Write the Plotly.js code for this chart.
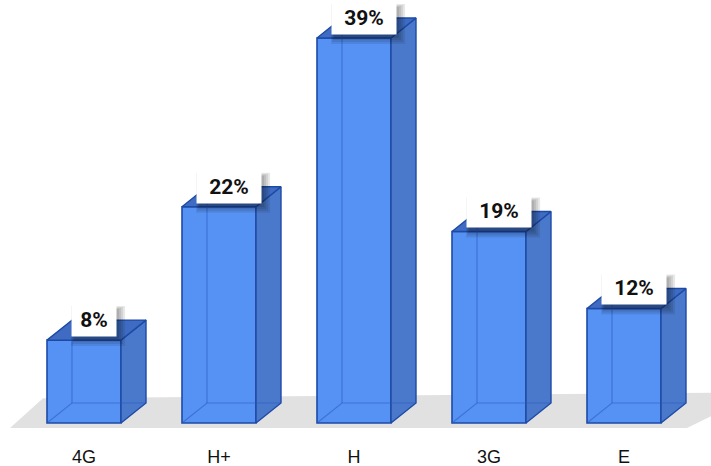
<!DOCTYPE html>
<html>
<head>
<meta charset="utf-8">
<script src="https://cdn.plot.ly/plotly-3.0.1.min.js"></script>
<style>html,body{margin:0;padding:0;background:#fff;}#chart{width:711px;height:466px;}</style>
</head>
<body>
<div id="chart"></div>
<script>
const categories = ['4G', 'H+', 'H', '3G', 'E'];
const values = [8.4, 21.9, 39, 19.4, 11.6];
const valueLabels = ['8%', '22%', '39%', '19%', '12%'];

// Pixel-based styling geometry
const W = 711, H = 466;
const marginB = 22;
const pxPerCat = 135, firstCatPx = 84;
const zeroPx = 423, pxPerUnit = 385 / 39;
const barWpx = 74, depthXpx = 25, depthYpx = 20;

const xr = [-firstCatPx / pxPerCat, (W - firstCatPx) / pxPerCat];
const yr = [-(H - marginB - zeroPx) / pxPerUnit, zeroPx / pxPerUnit];
const bw = barWpx / pxPerCat, dx = depthXpx / pxPerCat, dy = depthYpx / pxPerUnit;
const xs = categories.map((c, i) => i);

const sideX = [], sideY = [], topX = [], topY = [], inX = [], inY = [];
xs.forEach((x, i) => {
  const v = values[i], l = x - bw / 2, r = x + bw / 2;
  sideX.push(r, r + dx, r + dx, r, r, null); sideY.push(0, dy, v + dy, v, 0, null);
  topX.push(l, r, r + dx, l + dx, l, null); topY.push(v, v, v + dy, v + dy, v, null);
  inX.push(l, l + dx, r + dx, null, l + dx, l + dx, null);
  inY.push(0, dy, dy, null, dy, v + dy, null);
});

const edge = '#1d4aa6';
const traces = [
  {type: 'bar', x: xs, y: values, width: bw, marker: {color: '#5692f3', line: {color: edge, width: 1.6}}, hoverinfo: 'skip'},
  {type: 'scatter', mode: 'lines', x: sideX, y: sideY, fill: 'toself', fillcolor: '#4a79cb', line: {color: edge, width: 1.4}, hoverinfo: 'skip'},
  {type: 'scatter', mode: 'lines', x: topX, y: topY, fill: 'toself', fillcolor: '#3f6cc2', line: {color: edge, width: 1.4}, hoverinfo: 'skip'},
  {type: 'scatter', mode: 'lines', x: inX, y: inY, line: {color: 'rgba(40,90,190,0.55)', width: 1.2}, hoverinfo: 'skip'}
];

const floorFront = -0.5, floorBack = 2.5, floorSkew = 33 / pxPerCat;
const shapes = [{
  type: 'path', xref: 'x', yref: 'y', layer: 'below',
  path: `M ${-74 / pxPerCat},${floorFront} L ${(687 - firstCatPx) / pxPerCat},${floorFront} L ${(687 - firstCatPx) / pxPerCat + floorSkew + 0.3},${floorBack + 0.6} L ${-74 / pxPerCat + floorSkew},${floorBack} Z`,
  fillcolor: '#e1e1e1', line: {width: 0}
}];

const annotations = [];
const labelFont = 'Roboto, Arial, Liberation Sans';
const boxH = 32, boxLift = 3, labelOff = 0.075;
xs.forEach((x, i) => {
  const w = valueLabels[i].length === 2 ? 44 : 64;
  // soft shadow (layered translucent rects, pixel-sized, anchored at the label)
  [0, 2, 4, 6].forEach(g => {
    shapes.push({type: 'rect', xref: 'x', yref: 'y', xsizemode: 'pixel', ysizemode: 'pixel',
      xanchor: x + labelOff, yanchor: values[i], layer: 'above',
      x0: -w / 2 + 2 - g / 2, x1: w / 2 + 3 + g, y0: boxLift - 3 - g, y1: boxLift + boxH - 4 + g / 2,
      fillcolor: 'rgba(0,0,0,0.09)', line: {width: 0}});
  });
  annotations.push({x: x + labelOff, y: values[i], xref: 'x', yref: 'y', yanchor: 'bottom', yshift: boxLift,
    showarrow: false, width: w, height: boxH, text: '<b>' + valueLabels[i] + '</b>', bgcolor: '#ffffff', borderpad: 0,
    font: {family: labelFont, size: 21, color: '#111'}});
});

const layout = {
  width: W, height: H,
  margin: {l: 0, r: 0, t: 0, b: marginB},
  paper_bgcolor: '#fff', plot_bgcolor: '#fff',
  showlegend: false,
  barmode: 'overlay',
  xaxis: {range: xr, tickmode: 'array', tickvals: xs, ticktext: categories, showgrid: false, zeroline: false,
    showline: false, ticks: '', tickfont: {family: 'Arial, Liberation Sans', size: 18, color: '#111'}, fixedrange: true},
  yaxis: {range: yr, showgrid: false, zeroline: false, showticklabels: false, showline: false, fixedrange: true},
  shapes: shapes,
  annotations: annotations
};

Plotly.newPlot('chart', traces, layout, {displayModeBar: false, staticPlot: true});
</script>
</body>
</html>
